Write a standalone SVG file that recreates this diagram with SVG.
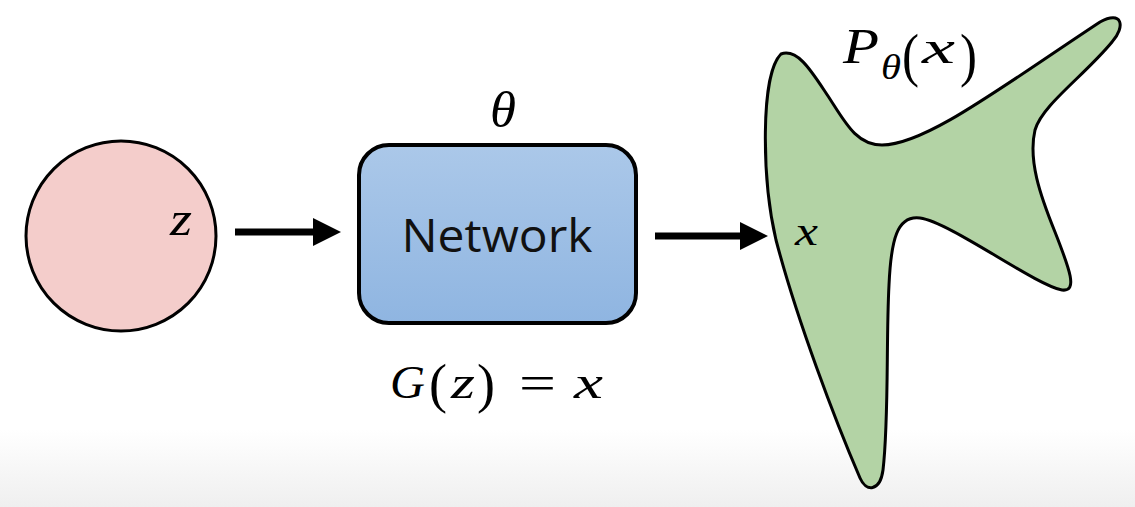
<svg xmlns="http://www.w3.org/2000/svg" width="1135" height="507" viewBox="0 0 1135 507">
<defs>
<linearGradient id="bg" x1="0" y1="0" x2="0" y2="1">
<stop offset="0" stop-color="#ffffff"/>
<stop offset="1" stop-color="#efefef"/>
</linearGradient>
<linearGradient id="boxg" x1="0" y1="0" x2="0" y2="1">
<stop offset="0" stop-color="#abc8e9"/>
<stop offset="1" stop-color="#8fb5e1"/>
</linearGradient>
<marker id="ah" markerWidth="4" markerHeight="4" refX="0" refY="2" orient="auto" markerUnits="strokeWidth">
<path d="M0,0 L4,2 L0,4 Z" fill="#000"/>
</marker>
<style>
.math{font-family:"Liberation Serif","DejaVu Serif",serif;font-style:italic;fill:#000}
.up{font-family:"Liberation Serif","DejaVu Serif",serif;font-style:normal;fill:#000}
.conn{stroke:#000;stroke-width:7;fill:none}
</style>
</defs>
<rect x="0" y="0" width="1135" height="507" fill="#ffffff"/>
<rect x="0" y="430" width="1135" height="77" fill="url(#bg)"/>
<g id="latent">
<circle cx="121" cy="236" r="95" fill="#f4cdcb" stroke="#000" stroke-width="3"/>
<text class="math" x="170" y="235" font-size="48" textLength="22" lengthAdjust="spacingAndGlyphs">z</text>
</g>
<g id="network">
<text class="math" x="490" y="127" font-size="50" textLength="26" lengthAdjust="spacingAndGlyphs">θ</text>
<rect x="359" y="145" width="277" height="178" rx="30" ry="30" fill="url(#boxg)" stroke="#000" stroke-width="4"/>
<text x="497" y="252" font-family="Open Sans, Liberation Sans, sans-serif" font-size="46" text-anchor="middle" textLength="191" lengthAdjust="spacingAndGlyphs" fill="#111">Network</text>
<text class="math" x="390" y="398" font-size="46" textLength="35" lengthAdjust="spacingAndGlyphs">G</text>
<text class="up" x="429" y="402" font-size="55" textLength="18" lengthAdjust="spacingAndGlyphs">(</text>
<text class="math" x="451" y="398" font-size="46" textLength="24" lengthAdjust="spacingAndGlyphs">z</text>
<text class="up" x="477" y="402" font-size="55" textLength="18" lengthAdjust="spacingAndGlyphs">)</text>
<text class="up" x="519" y="400" font-size="50" textLength="37" lengthAdjust="spacingAndGlyphs">=</text>
<text class="math" x="574" y="398" font-size="46" textLength="29" lengthAdjust="spacingAndGlyphs">x</text>
</g>
<g id="distribution">
<path d="M 781,54 C 798,48 812,72 828,96 C 845,122 856,145 882,145 C 925,145 1000,88 1100,22 C 1122,10 1126,26 1112,42 C 1085,75 1042,105 1035,130 C 1028,160 1040,195 1055,232 C 1070,270 1078,292 1062,290 C 1035,285 950,222 920,218 C 897,215 891,240 889,285 C 886,340 889,420 883,470 C 880,492 866,492 860,478 C 835,420 797,320 776,240 C 762,180 760,75 781,54 Z" fill="#b3d3a5" stroke="#000" stroke-width="3" stroke-linejoin="round"/>
<text class="math" x="795" y="245" font-size="40" textLength="23" lengthAdjust="spacingAndGlyphs">x</text>
<text class="math" x="843" y="63" font-size="50" textLength="36" lengthAdjust="spacingAndGlyphs">P</text>
<text class="math" x="881" y="79" font-size="36" textLength="20" lengthAdjust="spacingAndGlyphs">θ</text>
<text class="up" x="902" y="75" font-size="60" textLength="17" lengthAdjust="spacingAndGlyphs">(</text>
<text class="math" x="922" y="63" font-size="46" textLength="33" lengthAdjust="spacingAndGlyphs">x</text>
<text class="up" x="960" y="75" font-size="60" textLength="17" lengthAdjust="spacingAndGlyphs">)</text>
</g>
<g id="connectors">
<line class="conn" x1="235" y1="232" x2="313" y2="232" marker-end="url(#ah)"/>
<line class="conn" x1="655" y1="236" x2="740" y2="236" marker-end="url(#ah)"/>
</g>
</svg>
